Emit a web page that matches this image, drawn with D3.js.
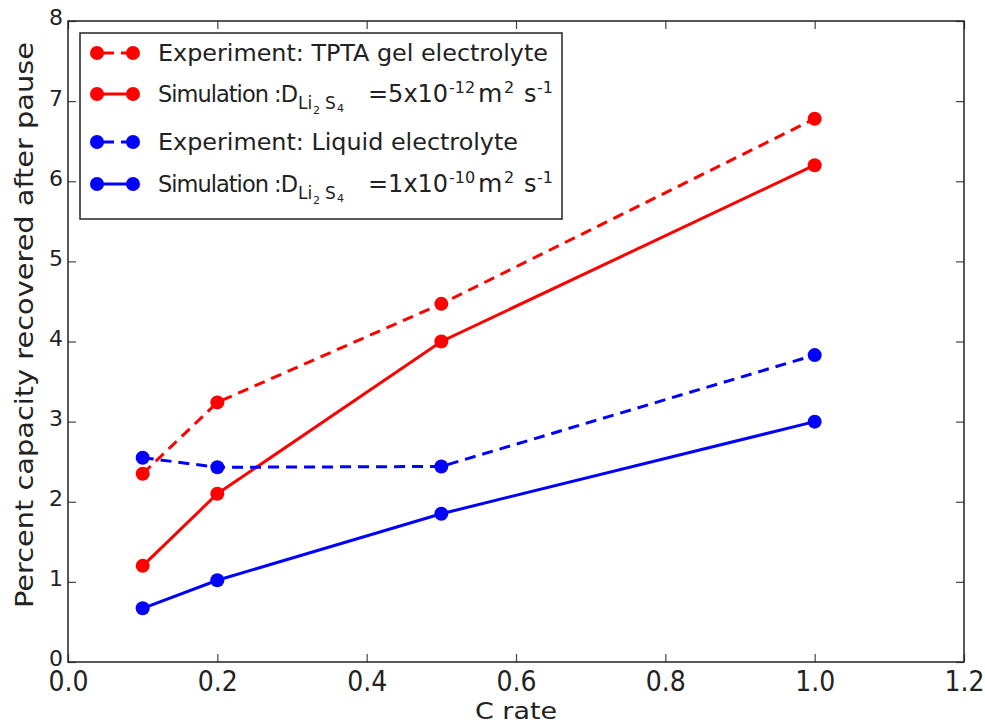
<!DOCTYPE html>
<html>
<head>
<meta charset="utf-8">
<script src="https://cdn.jsdelivr.net/npm/d3@7"></script>
<style>
  body { margin: 0; background: #fff; }
  text { font-family: "DejaVu Sans", sans-serif; fill: #222; }
</style>
</head>
<body>
<div id="container"></div>
<script>
// Percent capacity recovered after pause vs C rate

const cRates = [0.1, 0.2, 0.5, 1.0]
const expGel = [2.35, 3.24, 4.47, 6.78]
const simGel = [1.20, 2.10, 4.00, 6.20]
const expLiquid = [2.55, 2.43, 2.44, 3.83]
const simLiquid = [0.67, 1.02, 1.85, 3.00]
const xTicks = [0.0, 0.2, 0.4, 0.6, 0.8, 1.0, 1.2]
const yTicks = [0, 1, 2, 3, 4, 5, 6, 7, 8]

const width = 985,
    height = 728
const margin = { top: 21, right: 21, bottom: 66, left: 68 }

const svg = d3.select("#container").append("svg")
    .attr("width", width)
    .attr("height", height)

const x = d3.scaleLinear().domain([0, 1.2]).range([margin.left, width - margin.right])
const y = d3.scaleLinear().domain([0, 8]).range([height - margin.bottom, margin.top])

const series = [
    { values: expGel, color: "#ff0000", dashed: true },
    { values: simGel, color: "#ff0000", dashed: false },
    { values: expLiquid, color: "#0000ff", dashed: true },
    { values: simLiquid, color: "#0000ff", dashed: false },
]

// axes, ticks inward on all sides
const tickLen = 8
const frame = svg.append("g").attr("id", "frame")

frame.append("g")
    .attr("transform", `translate(0,${y(0)})`)
    .call(d3.axisBottom(x).tickValues(xTicks).tickSize(-tickLen).tickFormat(d3.format(".1f")))
    .call(g => g.select(".domain").remove())
    .call(g => g.selectAll("text")
        .attr("y", 29).attr("dy", 0)
        .attr("textLength", 40).attr("lengthAdjust", "spacingAndGlyphs")
        .style("font-size", "28px"))

frame.append("g")
    .attr("transform", `translate(0,${y(8)})`)
    .call(d3.axisTop(x).tickValues(xTicks).tickSize(-tickLen).tickFormat(""))
    .call(g => g.select(".domain").remove())

frame.append("g")
    .attr("transform", `translate(${x(0)},0)`)
    .call(d3.axisLeft(y).tickValues(yTicks).tickSize(-tickLen).tickPadding(5))
    .call(g => g.select(".domain").remove())
    .call(g => g.selectAll("text").attr("dy", "0.18em").style("font-size", "22px"))

frame.append("g")
    .attr("transform", `translate(${x(1.2)},0)`)
    .call(d3.axisRight(y).tickValues(yTicks).tickSize(-tickLen).tickFormat(""))
    .call(g => g.select(".domain").remove())

frame.selectAll(".tick line").attr("stroke", "#444").attr("stroke-width", 1.2)

frame.append("rect")
    .attr("x", x(0)).attr("y", y(8))
    .attr("width", x(1.2) - x(0)).attr("height", y(0) - y(8))
    .attr("fill", "none").attr("stroke", "#222").attr("stroke-width", 1.5)

svg.append("text")
    .attr("x", 516).attr("y", 719)
    .attr("text-anchor", "middle")
    .attr("textLength", 82).attr("lengthAdjust", "spacingAndGlyphs")
    .style("font-size", "23px")
    .text("C rate")

svg.append("text")
    .attr("transform", "translate(33,325) rotate(-90)")
    .attr("text-anchor", "middle")
    .attr("textLength", 566).attr("lengthAdjust", "spacingAndGlyphs")
    .style("font-size", "25px")
    .text("Percent capacity recovered after pause")

// lines and markers
const line = d3.line().x((d, i) => x(cRates[i])).y(d => y(d))

series.forEach(s => {
    svg.append("path")
        .datum(s.values)
        .attr("d", line)
        .attr("fill", "none")
        .attr("stroke", s.color)
        .attr("stroke-width", 3)
        .attr("stroke-dasharray", s.dashed ? "11,7" : null)
    svg.append("g").selectAll("circle")
        .data(s.values)
        .join("circle")
        .attr("cx", (d, i) => x(cRates[i]))
        .attr("cy", d => y(d))
        .attr("r", 7)
        .attr("fill", s.color)
})

// legend
const legend = svg.append("g").attr("id", "legend")
legend.append("rect")
    .attr("x", 80).attr("y", 33)
    .attr("width", 482).attr("height", 186)
    .attr("fill", "#fff").attr("stroke", "#222").attr("stroke-width", 1.5)

const rowY = [53, 94, 142, 184]
series.forEach((s, i) => {
    const g = legend.append("g").attr("transform", `translate(0,${rowY[i]})`)
    g.append("line")
        .attr("x1", 97).attr("x2", 133)
        .attr("stroke", s.color).attr("stroke-width", 3)
        .attr("stroke-dasharray", s.dashed ? "11,7" : null)
        .attr("stroke-dashoffset", s.dashed ? -6 : null)
    g.selectAll("circle").data([97, 133]).join("circle")
        .attr("cx", d => d).attr("r", 7).attr("fill", s.color)
})

function plainLabel(i, txt, len) {
    legend.append("text")
        .attr("x", 158).attr("y", rowY[i] + 8)
        .attr("textLength", len).attr("lengthAdjust", "spacingAndGlyphs")
        .style("font-size", "23px")
        .text(txt)
}

function simLabel(i, coef, exp) {
    const base = rowY[i] + 8
    const g = legend.append("g")
    const part = (px, dy, size, txt, len) => {
        const t = g.append("text").attr("x", px).attr("y", base + dy)
            .style("font-size", size + "px").text(txt)
        if (len) t.attr("textLength", len).attr("lengthAdjust", "spacing")
    }
    part(158, 0, 22.5, "Simulation :D", 140)
    part(298, 7, 17, "Li")
    part(313, 12, 11, "2")
    part(325, 7, 17, "S")
    part(337, 10, 11, "4")
    part(368, 0, 24, "=" + coef + "x10")
    part(449, -9, 16, exp)
    part(478, 0, 25, "m")
    part(504, -9, 16, "2")
    part(524, 0, 24, "s")
    part(537, -9, 16, "-1")
}

plainLabel(0, "Experiment: TPTA gel electrolyte", 390)
simLabel(1, "5", "-12")
plainLabel(2, "Experiment: Liquid electrolyte", 360)
simLabel(3, "1", "-10")
</script>
</body>
</html>
